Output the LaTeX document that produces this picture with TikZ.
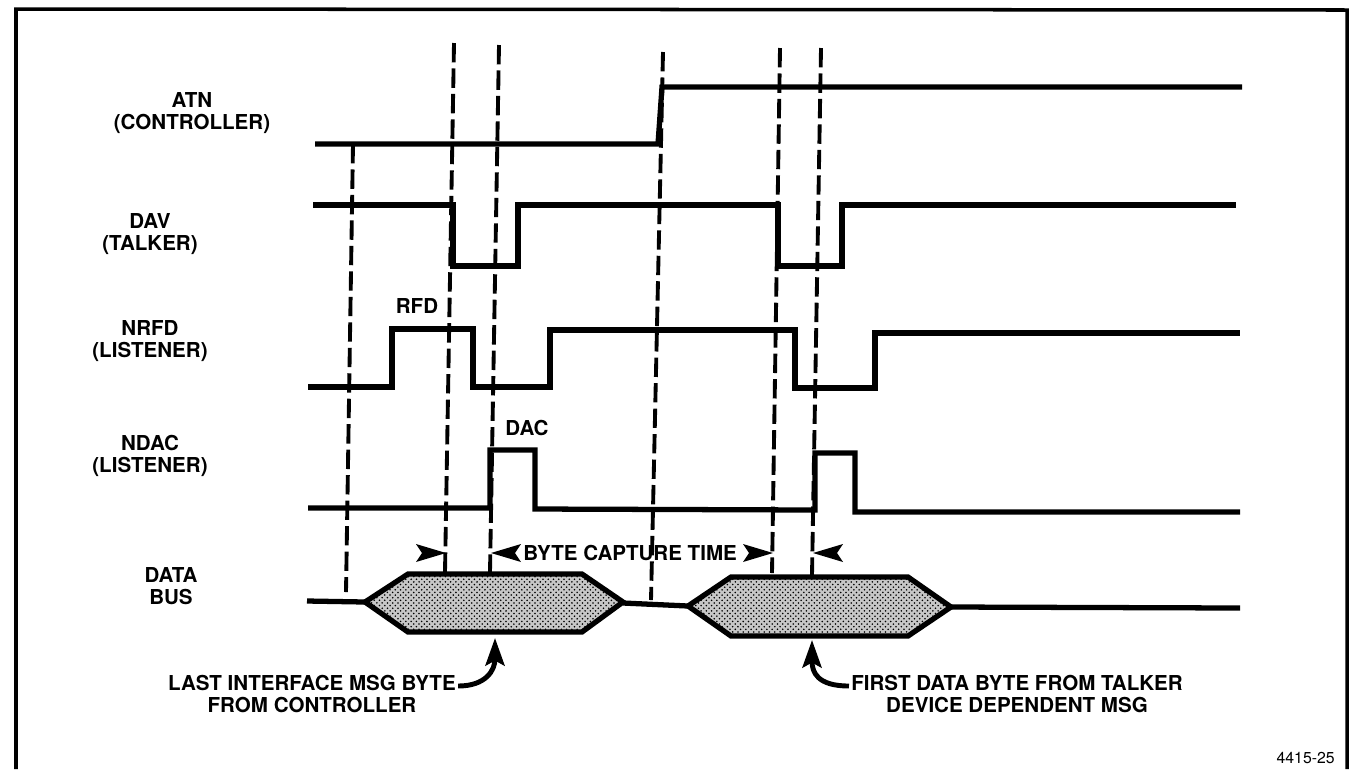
\documentclass[tikz,border=0pt]{standalone}
\usepackage{fontspec}
\setmainfont{TeX Gyre Heros}
\usetikzlibrary{arrows.meta,patterns}

\begin{document}
\begin{tikzpicture}[x=0.02cm, y=-0.02cm,
  wave/.style={line width=3pt, line join=miter},
  guide/.style={line width=2.2pt, dash pattern=on 11pt off 3.5pt},
  lbl/.style={font=\fontsize{11.7}{12.4}\selectfont\bfseries, align=center, inner sep=0pt},
  byte/.style={wave, fill=black!22, postaction={pattern=crosshatch dots}},
  headr/.pic={\fill (0,0) -- (-30,-9) -- (-24,0) -- (-30,9) -- cycle;},
  headl/.pic={\fill (0,0) -- (30,-9) -- (24,0) -- (30,9) -- cycle;},
  pointer/.style={-{Stealth[length=0.55cm, width=0.38cm, inset=0.1cm]}, line width=2.8pt}
]
\useasboundingbox (0,0) rectangle (1351,769);

% frame
\draw[line width=2pt] (16,769) -- (16,9) -- (1347,10) -- (1347,769);

% signal names
\node[lbl] (atn)  at (192,113) {ATN\\(CONTROLLER)};
\node[lbl] (dav)  at (150,234) {DAV\\(TALKER)};
\node[lbl] (nrfd) at (150,341) {NRFD\\(LISTENER)};
\node[lbl] (ndac) at (150,456) {NDAC\\(LISTENER)};
\node[lbl] (bus)  at (171,586) {DATA\\BUS};
\node[lbl] (rfd)  at (417,306) {RFD};
\node[lbl] (dac)  at (527,428) {DAC};

% waveforms
\draw[wave] (315,144) -- (658,144) -- (662,87) -- (1242,87);
\draw[wave] (313,205) -- (453,205) -- (453,266) -- (518,266) -- (518,205)
  -- (778,205) -- (778,266) -- (842,266) -- (842,205) -- (1236,205);
\draw[wave] (308,387) -- (392,387) -- (392,329) -- (473,329) -- (473,387)
  -- (550,387) -- (550,330) -- (795,330) -- (795,388) -- (875,388)
  -- (875,333) -- (1240,333);
\draw[wave] (308,508) -- (490,508) -- (490,450) -- (535,450) -- (535,509)
  -- (815,510) -- (815,453) -- (855,453) -- (855,512) -- (1240,512);

% timing guides
\draw[guide] (353,144) -- (346,592);
\draw[guide] (454,43) -- (445,572);
\draw[guide] (499,45) -- (490,572);
\draw[guide] (663,52) -- (651,600);
\draw[guide] (780,48) -- (772,573);
\draw[guide] (821,48) -- (812,575);

% data bus
\draw[wave] (307,601) -- (365,602);
\draw[byte] (365,602) -- (408,574) -- (582,574) -- (623,602) -- (582,632)
  -- (408,632) -- cycle;
\draw[wave] (623,603) -- (688,606);
\draw[byte] (688,606) -- (731,577) -- (908,577) -- (951,607) -- (908,636)
  -- (731,636) -- cycle;
\draw[wave] (951,607) -- (1240,608);

% byte capture time
\coordinate (c2) at (446,553);
\coordinate (c3) at (491,553);
\coordinate (c5) at (773,553);
\coordinate (c6) at (813,553);
\node[lbl, anchor=west] (cap) at (523,553) {BYTE CAPTURE TIME};
\pic at (c2) {headr};
\pic at (c3) {headl};
\pic at (c5) {headr};
\pic at (c6) {headl};

% byte notes
\node[lbl] (last)  at (312,694) {LAST INTERFACE MSG BYTE\\FROM CONTROLLER};
\node[lbl] (first) at (1017,694) {FIRST DATA BYTE FROM TALKER\\DEVICE DEPENDENT MSG};
\coordinate (b1) at (495,638);
\coordinate (b2) at (812,640);
\draw[pointer] ([xshift=0.04cm, yshift=0.16cm]last.east)
  .. controls +(28,0) and +(0,32) .. (b1);
\draw[pointer] ([xshift=-0.04cm, yshift=0.16cm]first.west)
  .. controls +(-32,0) and +(0,32) .. (b2);

\node[font=\fontsize{9}{10}\selectfont, anchor=east, inner sep=0pt] (fig) at (1335,758) {4415-25};
\end{tikzpicture}
\end{document}
